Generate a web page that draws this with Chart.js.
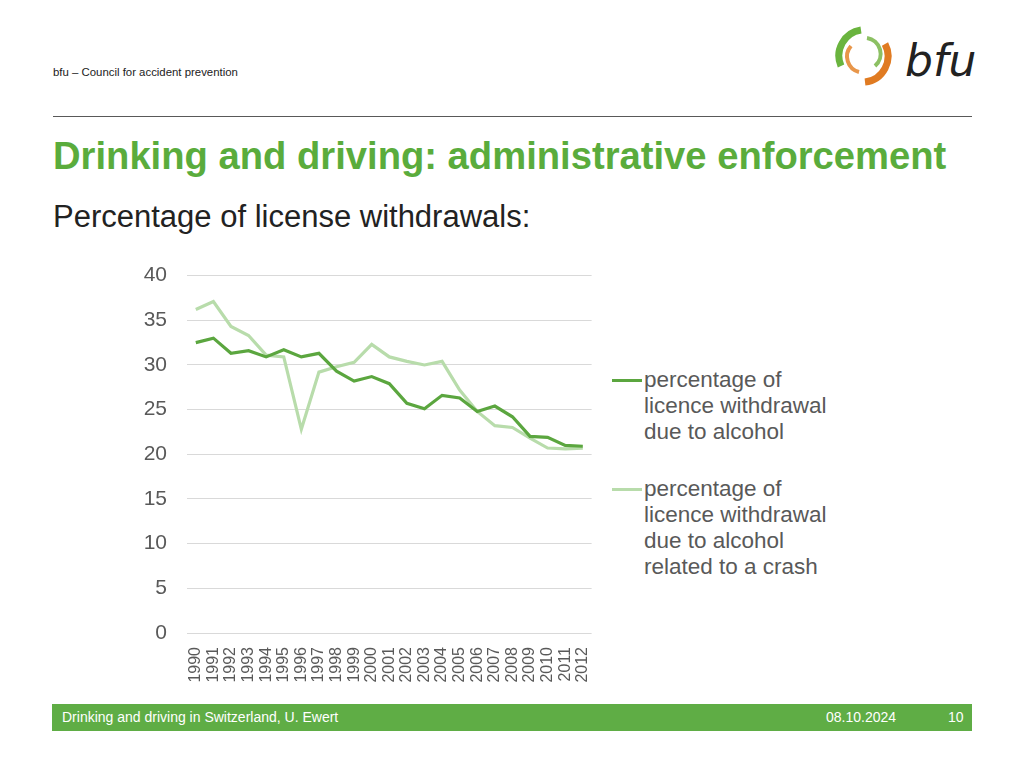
<!DOCTYPE html>
<html>
<head>
<meta charset="utf-8">
<script src="https://cdn.jsdelivr.net/npm/chart.js@4"></script>
<style>
  html, body { margin: 0; padding: 0; background: #fff; }
  body { width: 1024px; height: 768px; position: relative; overflow: hidden;
         font-family: "Liberation Sans", Arial, sans-serif; }
  .org   { position: absolute; left: 53px; top: 66px; font-size: 11.4px; color: #222; }
  .rule  { position: absolute; left: 53px; top: 116px; width: 919px; height: 0;
           border-top: 1.5px solid #595959; }
  .title { position: absolute; left: 53px; top: 134px; font-size: 38.2px; font-weight: bold;
           color: #5aac3c; white-space: nowrap; }
  .sub   { position: absolute; left: 53px; top: 199px; font-size: 31px; color: #222; white-space: nowrap; }
  #wrap  { position: absolute; left: 130px; top: 243px; width: 478px; height: 452px; }
  .legend { position: absolute; left: 612px; font-size: 22.5px; line-height: 26px; color: #595959; white-space: nowrap; }
  .legend .sw { position: absolute; left: 0; top: 12px; width: 30px; height: 3px; }
  .legend .tx { margin-left: 32px; }
  .foot  { position: absolute; left: 52px; top: 704px; width: 920px; height: 27px;
           background: #5fad45; color: #fff; font-size: 14px; line-height: 27px; }
  .logo  { position: absolute; left: 835px; top: 26px; }
</style>
</head>
<body>
<div class="org">bfu – Council for accident prevention</div>
<svg class="logo" width="140" height="60" viewBox="0 0 140 60">
  <path d="M26 4 A26 26 0 0 0 6 40" fill="none" stroke="#6ab43e" stroke-width="7"/>
  <path d="M30 56 A26 26 0 0 0 50 18" fill="none" stroke="#e07b22" stroke-width="7"/>
  <path d="M32 12 A16 16 0 0 1 40 40" fill="none" stroke="#8cc063" stroke-width="4"/>
  <path d="M24 46 A16 16 0 0 1 16 20" fill="none" stroke="#e8964a" stroke-width="4"/>
  <text x="70" y="50" font-family="DejaVu Sans, sans-serif" font-style="italic" font-size="44" fill="#222">bfu</text>
</svg>
<div class="rule"></div>
<div class="title">Drinking and driving: administrative enforcement</div>
<div class="sub">Percentage of license withdrawals:</div>
<div id="wrap"><canvas id="chart"></canvas></div>
<div class="legend" style="top:367px"><span class="sw" style="background:#5ba63f"></span>
  <div class="tx">percentage of<br>licence withdrawal<br>due to alcohol</div></div>
<div class="legend" style="top:476px"><span class="sw" style="background:#b8dcab"></span>
  <div class="tx">percentage of<br>licence withdrawal<br>due to alcohol<br>related to a crash</div></div>
<div class="foot"><span style="position:absolute;left:10px">Drinking and driving in Switzerland, U. Ewert</span>
  <span style="position:absolute;left:774px">08.10.2024</span>
  <span style="position:absolute;left:896px">10</span></div>
<script>
const years = ["1990","1991","1992","1993","1994","1995","1996","1997","1998","1999","2000",
               "2001","2002","2003","2004","2005","2006","2007","2008","2009","2010","2011","2012"];

const alcohol = [32.5, 33.0, 31.3, 31.6, 30.9, 31.7, 30.9, 31.3, 29.3, 28.2, 28.7,
                 27.9, 25.7, 25.1, 26.6, 26.3, 24.8, 25.4, 24.2, 22.0, 21.9, 21.0, 20.9];

const alcoholCrash = [36.2, 37.1, 34.3, 33.3, 31.1, 30.9, 22.8, 29.2, 29.8, 30.3, 32.3,
                      30.9, 30.4, 30.0, 30.4, 27.2, 24.8, 23.2, 23.0, 21.8, 20.7, 20.6, 20.7];

const yTicks = [0, 5, 10, 15, 20, 25, 30, 35, 40];

const canvas = document.getElementById("chart");

new Chart(canvas.getContext("2d"), {
  type: "line",
  data: {
    labels: years,
    datasets: [
      {
        label: "percentage of licence withdrawal due to alcohol",
        data: alcohol,
        borderColor: "#5ba63f",
        borderWidth: 3.2,
        pointRadius: 0,
        tension: 0,
      },
      {
        label: "percentage of licence withdrawal due to alcohol related to a crash",
        data: alcoholCrash,
        borderColor: "#b8dcab",
        borderWidth: 3.2,
        pointRadius: 0,
        tension: 0,
      },
    ],
  },
  options: {
    responsive: true,
    maintainAspectRatio: false,
    animation: false,
    layout: { padding: { top: 10, right: 0, left: 0, bottom: 0 } },
    plugins: { legend: { display: false }, tooltip: { enabled: false } },
    scales: {
      x: {
        offset: true,
        grid: { display: false },
        border: { display: false },
        ticks: {
          autoSkip: false, minRotation: 90, maxRotation: 90, padding: 6,
          color: "#595959", font: { family: "Liberation Sans", size: 16 },
        },
        afterFit: s => { s.height = 452 - (633 - 243); },
      },
      y: {
        min: 0, max: 40,
        afterBuildTicks: s => { s.ticks = yTicks.map(v => ({ value: v })); },
        grid: { color: "#d9d9d9", lineWidth: 1, drawTicks: false },
        border: { display: false },
        ticks: {
          padding: 20, color: "#595959", font: { family: "Liberation Sans", size: 21 },
        },
        afterFit: s => { s.width = 187 - 130; },
      },
    },
  },
});
</script>
</body>
</html>
